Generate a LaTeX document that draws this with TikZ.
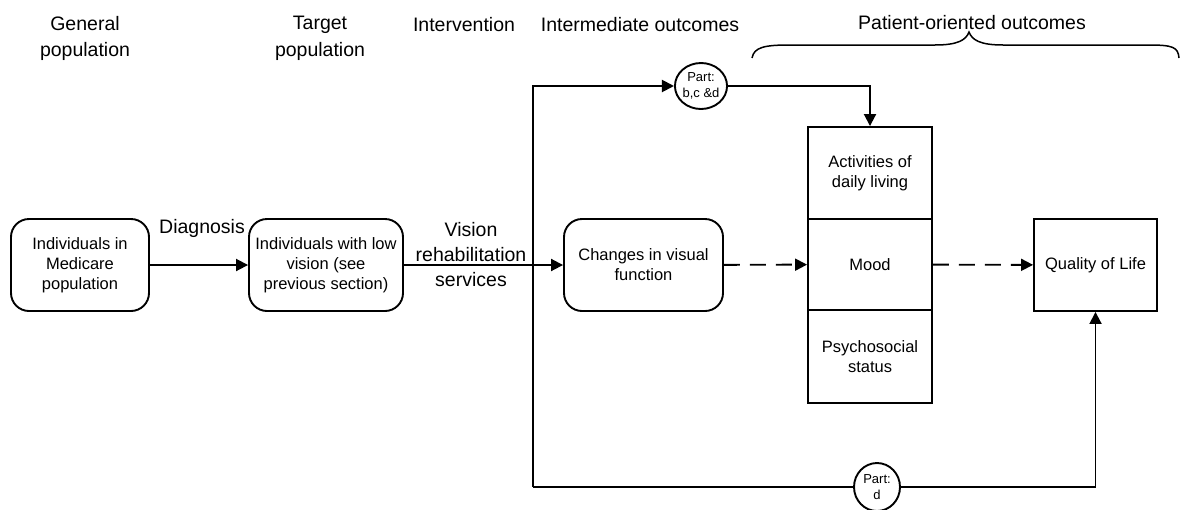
\documentclass[tikz,border=0pt]{standalone}
\usepackage{fontspec}
\setmainfont{Liberation Sans}
\usetikzlibrary{arrows.meta,shapes.geometric}
\tikzset{
  lw/.style={line width=1.9pt},
  rbox/.style={lw, draw, rounded corners=18pt, align=center, inner sep=2pt,
    font=\fontsize{16.5}{20}\selectfont},
  sbox/.style={lw, draw, align=center, inner sep=2pt, minimum width=124pt,
    font=\fontsize{16.5}{20}\selectfont},
  part/.style={lw, draw, ellipse, inner sep=0pt, minimum width=46pt, minimum height=46pt,
    align=center, font=\fontsize{13}{16}\selectfont},
  hdr/.style={align=center, font=\fontsize{19.5}{26.5}\selectfont},
  lbl/.style={align=center, font=\fontsize{19.5}{25}\selectfont},
  arr/.style={lw, -{Triangle[length=12pt,width=12pt]}},
  darr/.style={arr, dash pattern=on 16pt off 10pt},
}
\begin{document}
\begin{tikzpicture}[x=1pt,y=-1pt]
\useasboundingbox (0,0) rectangle (1180,509);
% headers
\node[hdr] (h1) at (85,38.5) {General\\population};
\node[hdr] (h2) at (320,38.5) {Target\\population};
\node[hdr] (h3) at (464,25) {Intervention};
\node[hdr] (h4) at (640,25) {Intermediate outcomes};
\node[hdr] (h5) at (972,23) {Patient-oriented outcomes};
% brace
\draw[line width=1.5pt] (752,58) .. controls (754,47) and (765,45) .. (790,45) -- (935,45)
  .. controls (958,45) and (966,40) .. (969,32)
  .. controls (972,40) and (980,45) .. (1003,45) -- (1148,45)
  .. controls (1173,45) and (1178,47) .. (1179,58);
% boxes
\node[rbox, minimum width=138pt, minimum height=92pt] (b1) at (80,265) {Individuals in\\Medicare\\population};
\node[rbox, minimum width=154pt, minimum height=92pt] (b2) at (326,265) {Individuals with low\\vision (see\\previous section)};
\node[rbox, minimum width=159pt, minimum height=92pt] (b3) at (643.5,265) {Changes in visual\\function};
\node[sbox, minimum height=92pt] (adl) at (870,173) {Activities of\\daily living};
\node[sbox, minimum height=91pt] (mood) at (870,264.5) {Mood};
\node[sbox, minimum height=93pt] (psy) at (870,356.5) {Psychosocial\\status};
\node[sbox, minimum width=123pt, minimum height=92pt] (qol) at (1095.5,265) {Quality of Life};
\node[part] (c1) at (701,86) {Part:\\b,c \&d};
\node[part, minimum height=48pt] (c2) at (877,487) {Part:\\d};
% labels
\node[lbl] (diag) at (202,228) {Diagnosis};
\node[lbl] (vis) at (471,255) {Vision\\rehabilitation\\services};
% connectors
\coordinate (tl) at (533,86);
\coordinate (bl) at (533,487);
\draw[arr] (b1) -- (b2);
\draw[arr] (b2) -- (b3);
\draw[arr] (bl) -- (tl) -- (c1.west);
\draw[arr] (c1.east) -| (adl.north);
\draw[lw] (bl) -- (c2.west);
\draw[arr] (c2.east) -| (qol.south);
\draw[darr] (b3) -- (mood);
\draw[darr] (mood) -- (qol);
\end{tikzpicture}
\end{document}
